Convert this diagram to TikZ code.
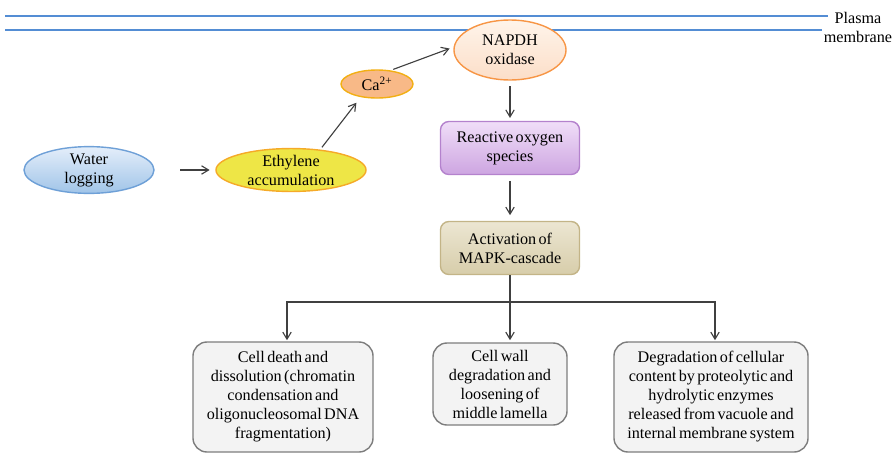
\documentclass[tikz,border=0pt]{standalone}
\usepackage{fontspec}
\setmainfont{Liberation Serif}[WordSpace=0.6]
\usetikzlibrary{arrows.meta,positioning,shapes.geometric}
\definecolor{membr}{RGB}{84,141,212}
\definecolor{wline}{RGB}{110,160,215}
\definecolor{wtop}{RGB}{228,238,250}
\definecolor{wbot}{RGB}{160,196,232}
\definecolor{ethfill}{RGB}{238,230,70}
\definecolor{ethline}{RGB}{245,170,40}
\definecolor{cafill}{RGB}{248,185,135}
\definecolor{caline}{RGB}{242,175,20}
\definecolor{naptop}{RGB}{254,244,234}
\definecolor{napbot}{RGB}{252,222,200}
\definecolor{napline}{RGB}{247,150,70}
\definecolor{rostop}{RGB}{240,222,248}
\definecolor{rosbot}{RGB}{205,165,225}
\definecolor{rosline}{RGB}{180,130,205}
\definecolor{maptop}{RGB}{236,230,210}
\definecolor{mapbot}{RGB}{215,205,170}
\definecolor{mapline}{RGB}{195,180,135}
\definecolor{outfill}{RGB}{243,243,243}
\definecolor{outline}{RGB}{125,125,125}
\definecolor{arr}{RGB}{64,64,64}

\begin{document}
\begin{tikzpicture}[x=0.025cm,y=-0.025cm,>={Straight Barb[length=5pt,width=6pt]},
  font=\fontsize{11.5}{13.5}\selectfont,
  oval/.style={ellipse,draw,line width=1pt,inner sep=0pt,align=center},
  box/.style={draw,line width=1pt,rounded corners=6pt,inner sep=2pt,
              minimum width=3.475cm,minimum height=1.325cm,align=center},
  result/.style={draw=outline,fill=outfill,line width=1pt,rounded corners=10pt,
                 inner sep=2pt,align=center},
  link/.style={->,draw=arr,line width=0.8pt}]
  \useasboundingbox (0,0) rectangle (893,454);

  % plasma membrane
  \draw[membr,line width=1.3pt] (5,16) -- (828,16);
  \draw[membr,line width=1.3pt] (5,30) -- (822,30);
  \node[align=center,inner sep=0pt] (pm) at (858,27) {Plasma\\membrane};

  % upper part
  \node[oval,draw=wline,top color=wtop,bottom color=wbot,
        minimum width=3.25cm,minimum height=1cm] (water) at (89,170) {Water\\logging};
  \node[oval,draw=ethline,fill=ethfill,
        minimum width=3.75cm,minimum height=1.05cm] (eth) at (291,170) {Ethylene\\accumulation};
  \node[oval,draw=caline,fill=cafill,
        minimum width=1.8cm,minimum height=0.7cm] (ca) at (377,84) {Ca\textsuperscript{2+}};
  \node[oval,draw=napline,top color=naptop,bottom color=napbot,
        minimum width=2.8cm,minimum height=1.5cm] (nox) at (510,50) {NAPDH\\oxidase};
  \node[box,draw=rosline,top color=rostop,bottom color=rosbot] (ros) at (510,148) {Reactive oxygen\\species};
  \node[box,draw=mapline,top color=maptop,bottom color=mapbot] (mapk) at (510,248) {Activation of\\MAPK-cascade};

  % outcomes
  \node[result,minimum width=4.5cm,minimum height=2.75cm] (death) at (283,397)
    {Cell death and\\dissolution (chromatin\\condensation and\\oligonucleosomal DNA\\fragmentation)};
  \node[result,minimum width=3.35cm,minimum height=2.05cm] (wall) at (500,384)
    {Cell wall\\degradation and\\loosening of\\middle lamella};
  \node[result,minimum width=4.85cm,minimum height=2.75cm] (degr) at (711,397)
    {Degradation of cellular\\content by proteolytic and\\hydrolytic enzymes\\released from vacuole and\\internal membrane system};

  \draw[link,shorten <=18pt,shorten >=4pt] (water) -- (eth);
  \draw[link,shorten <=2pt,shorten >=5pt] (eth.35) -- (ca.219);
  \draw[link,shorten <=2pt,shorten >=3pt] (ca.45) -- (nox.177);
  \draw[link,shorten <=4pt,shorten >=2pt] (nox) -- (ros);
  \draw[link,shorten <=4pt,shorten >=4pt] (ros) -- (mapk);
  \coordinate (split) at (510,302);
  \draw[link,shorten >=2pt] (mapk.south) -- (510,343);
  \draw[link,shorten >=2pt] (mapk.south) -- (split) -| (287,343);
  \draw[link,shorten >=2pt] (split) -| (715,343);
\end{tikzpicture}
\end{document}
